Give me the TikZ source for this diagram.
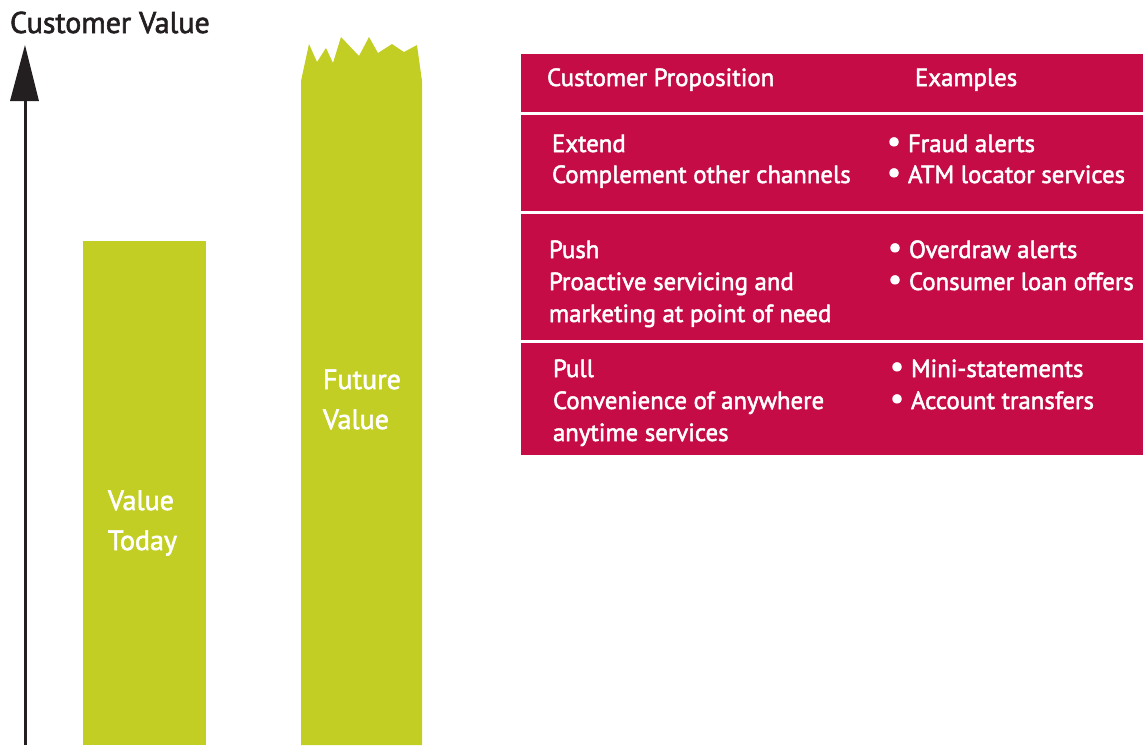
\documentclass[tikz,border=0pt]{standalone}
\usepackage{fontspec}
\setmainfont{PT Sans}[FakeBold=2]
\definecolor{crim}{RGB}{198,12,70}
\definecolor{lime}{RGB}{194,206,35}
\definecolor{ink}{RGB}{35,31,32}
\newcommand{\bul}{\makebox[21pt][l]{\raisebox{0.5pt}{\scalebox{1.25}{•}}}}
\begin{document}
\begin{tikzpicture}[x=1pt,y=-1pt,
  every node/.style={inner sep=0pt,outer sep=0pt},
  cell/.style={fill=crim,draw=none},
  bar/.style={fill=lime,draw=none},
  tabtxt/.style={anchor=base west,text=white,font=\fontsize{24.8}{28}\selectfont},
  bartxt/.style={anchor=base west,text=white,font=\fontsize{28}{34}\selectfont},
  titletxt/.style={anchor=base west,text=ink,font=\fontsize{30}{34}\selectfont}]
\useasboundingbox (0,0) rectangle (1143,745);
% title and axis
\node[titletxt] (title) at (10,33) {Customer Value};
\coordinate (axbot) at (25,745);
\coordinate (axtop) at (25,100);
\draw[ink,line width=3pt] (axbot) -- (axtop);
\fill[ink] (25,45) -- (39,101) -- (10,101) -- cycle;
% bars
\fill[bar] (83,241) rectangle (206,745);
\fill[bar] (301,745) -- (301,81) -- (309,44) -- (317,62) -- (326,48) -- (333,63) -- (341,37)
  -- (359,56) -- (369,37) -- (378,53) -- (392,44) -- (404,52) -- (417,45) -- (422,81) -- (422,745) -- cycle;
\node[bartxt] (fv1) at (323,389) {Future};
\node[bartxt] (fv2) at (323,429) {Value};
\node[bartxt] (vt1) at (108,510) {Value};
\node[bartxt] (vt2) at (108,550) {Today};
% table
\fill[cell] (521,54) rectangle (1143,112);
\fill[cell] (521,115) rectangle (1143,211);
\fill[cell] (521,213.5) rectangle (1143,340);
\fill[cell] (521,343) rectangle (1143,455);
\node[tabtxt] (h1) at (547,86) {Customer Proposition};
\node[tabtxt] (h2) at (915,86) {Examples};
\node[tabtxt] (r1a) at (552,152) {Extend};
\node[tabtxt] (r1b) at (552,183) {Complement other channels};
\node[tabtxt] (r1c) at (887,152) {\bul Fraud alerts};
\node[tabtxt] (r1d) at (887,183) {\bul ATM locator services};
\node[tabtxt] (r2a) at (549,258) {Push};
\node[tabtxt] (r2b) at (549,290) {Proactive servicing and};
\node[tabtxt] (r2c) at (549,322) {marketing at point of need};
\node[tabtxt] (r2d) at (888,258) {\bul Overdraw alerts};
\node[tabtxt] (r2e) at (888,290) {\bul Consumer loan offers};
\node[tabtxt] (r3a) at (553,377) {Pull};
\node[tabtxt] (r3b) at (553,409) {Convenience of anywhere};
\node[tabtxt] (r3c) at (553,441) {anytime services};
\node[tabtxt] (r3d) at (890,377) {\bul Mini-statements};
\node[tabtxt] (r3e) at (890,409) {\bul Account transfers};
\end{tikzpicture}
\end{document}
